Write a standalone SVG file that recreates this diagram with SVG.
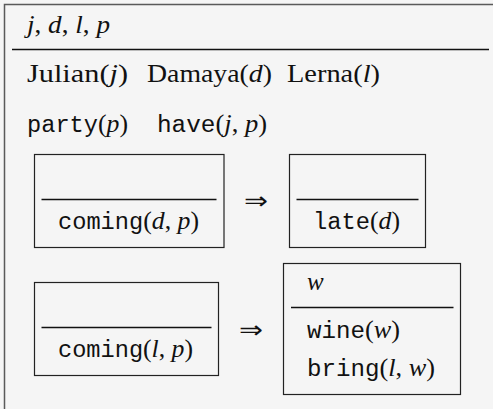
<svg xmlns="http://www.w3.org/2000/svg" width="493" height="409" viewBox="0 0 493 409">
  <style>
    .bg { fill: #f5f5f5; }
    .outer { fill: none; stroke: #5a5a5a; stroke-width: 1.5; }
    .box { fill: none; stroke: #222; stroke-width: 1.2; }
    .rule { stroke: #111; stroke-width: 1.4; }
    text { fill: #111; font-size: 25px; }
    .rm { font-family: "Liberation Serif", "Times New Roman", serif; }
    .tt { font-family: "Liberation Mono", "Courier New", monospace; font-size: 23px; }
    .it { font-family: "Liberation Serif", "Times New Roman", serif; font-style: italic; }
    .sym { font-family: "DejaVu Sans", sans-serif; font-size: 24px; }
  </style>
  <rect class="bg" x="0" y="0" width="493" height="409"/>

  <!-- main DRS: universe and conditions -->
  <g id="drs-main">
    <rect class="outer" x="4.5" y="4.5" width="520" height="440"/>
    <text class="it" x="27" y="33" textLength="83" lengthAdjust="spacingAndGlyphs">j<tspan class="rm" font-style="normal">, </tspan>d<tspan class="rm" font-style="normal">, </tspan>l<tspan class="rm" font-style="normal">, </tspan>p</text>
    <line class="rule" x1="12" y1="49.5" x2="489" y2="49.5"/>
    <text class="rm" x="27" y="82" textLength="101" lengthAdjust="spacingAndGlyphs">Julian(<tspan class="it">j</tspan>)</text>
    <text class="rm" x="147" y="82" textLength="125" lengthAdjust="spacingAndGlyphs">Damaya(<tspan class="it">d</tspan>)</text>
    <text class="rm" x="287" y="82" textLength="93" lengthAdjust="spacingAndGlyphs">Lerna(<tspan class="it">l</tspan>)</text>
    <text x="27" y="132" textLength="101" lengthAdjust="spacingAndGlyphs"><tspan class="tt">party</tspan><tspan class="rm">(</tspan><tspan class="it">p</tspan><tspan class="rm">)</tspan></text>
    <text x="157" y="132" textLength="110" lengthAdjust="spacingAndGlyphs"><tspan class="tt">have</tspan><tspan class="rm">(</tspan><tspan class="it">j</tspan><tspan class="rm">, </tspan><tspan class="it">p</tspan><tspan class="rm">)</tspan></text>
  </g>

  <!-- antecedent: Damaya coming -->
  <g id="drs-coming-d">
    <rect class="box" x="34.5" y="154.5" width="189.5" height="93"/>
    <line class="rule" x1="41.5" y1="199.5" x2="216.5" y2="199.5"/>
    <text x="58" y="229" textLength="141" lengthAdjust="spacingAndGlyphs"><tspan class="tt">coming</tspan><tspan class="rm">(</tspan><tspan class="it">d</tspan><tspan class="rm">, </tspan><tspan class="it">p</tspan><tspan class="rm">)</tspan></text>
  </g>

  <!-- consequent: Damaya late -->
  <g id="drs-late-d">
    <rect class="box" x="289.5" y="154.5" width="136" height="93"/>
    <line class="rule" x1="296.5" y1="199.5" x2="418.5" y2="199.5"/>
    <text x="313" y="229" textLength="87" lengthAdjust="spacingAndGlyphs"><tspan class="tt">late</tspan><tspan class="rm">(</tspan><tspan class="it">d</tspan><tspan class="rm">)</tspan></text>
  </g>

  <!-- antecedent: Lerna coming -->
  <g id="drs-coming-l">
    <rect class="box" x="34.5" y="282.5" width="184" height="93"/>
    <line class="rule" x1="41.5" y1="327.5" x2="211.5" y2="327.5"/>
    <text x="58" y="357" textLength="135" lengthAdjust="spacingAndGlyphs"><tspan class="tt">coming</tspan><tspan class="rm">(</tspan><tspan class="it">l</tspan><tspan class="rm">, </tspan><tspan class="it">p</tspan><tspan class="rm">)</tspan></text>
  </g>

  <!-- consequent: Lerna brings wine -->
  <g id="drs-wine">
    <rect class="box" x="283.5" y="263.5" width="177" height="131"/>
    <text class="it" x="307" y="290">w</text>
    <line class="rule" x1="291" y1="307.5" x2="453.5" y2="307.5"/>
    <text x="307" y="338" textLength="93" lengthAdjust="spacingAndGlyphs"><tspan class="tt">wine</tspan><tspan class="rm">(</tspan><tspan class="it">w</tspan><tspan class="rm">)</tspan></text>
    <text x="307" y="376" textLength="128" lengthAdjust="spacingAndGlyphs"><tspan class="tt">bring</tspan><tspan class="rm">(</tspan><tspan class="it">l</tspan><tspan class="rm">, </tspan><tspan class="it">w</tspan><tspan class="rm">)</tspan></text>
  </g>

  <!-- implication connectives -->
  <g id="connectors">
    <text class="sym" x="244" y="209" textLength="24" lengthAdjust="spacingAndGlyphs">⇒</text>
    <text class="sym" x="239" y="338" textLength="24" lengthAdjust="spacingAndGlyphs">⇒</text>
  </g>
</svg>
